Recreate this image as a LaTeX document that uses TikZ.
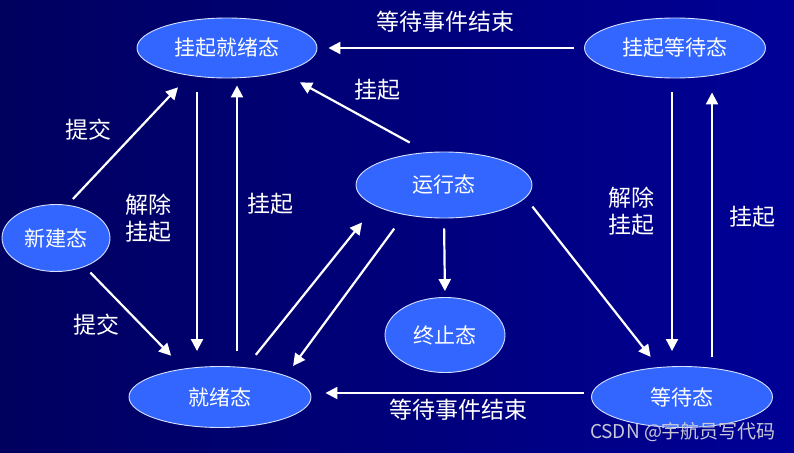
\documentclass[tikz,border=0pt]{standalone}
\usepackage{fontspec}
\setmainfont{Noto Sans CJK SC}
\usepackage{tikz}
\usetikzlibrary{shapes.geometric,arrows.meta,positioning,calc}
\definecolor{navybg}{RGB}{0,0,150}
\definecolor{navydk}{RGB}{0,0,95}
\definecolor{stateblue}{RGB}{51,102,255}
\definecolor{wmgray}{RGB}{200,200,215}

\begin{document}
\begin{tikzpicture}[x=1pt,y=-1pt,
          state/.style={ellipse,draw=white!80!stateblue,line width=0.9pt,
                        fill=stateblue,inner sep=0pt,text=white,
                        font=\fontsize{21}{24}\selectfont},
          arr/.style={-{Triangle[length=12pt,width=12pt]},white,line width=2.2pt},
          lbl/.style={text=white,align=center,font=\fontsize{23}{27}\selectfont}]
        \useasboundingbox (0,0) rectangle (794,452);
        \shade[left color=navydk,right color=navybg] (0,0) rectangle (794,452);
        % states
        \node[state,minimum width=180pt,minimum height=60pt] (sready) at (227,48) {挂起就绪态};
        \node[state,minimum width=181pt,minimum height=60pt] (swait) at (675,48) {挂起等待态};
        \node[state,minimum width=176pt,minimum height=66pt] (run) at (444,185) {运行态};
        \node[state,minimum width=108pt,minimum height=67pt] (new) at (56,238) {新建态};
        \node[state,minimum width=182pt,minimum height=61pt] (ready) at (220,397) {就绪态};
        \node[state,minimum width=120pt,minimum height=75pt] (term) at (445,335) {终止态};
        \node[state,minimum width=181pt,minimum height=61pt] (wait) at (682,397) {等待态};
        % transitions
        \draw[arr,shorten <=10pt,shorten >=11pt] (swait.west) -- (sready.east);
        \draw[arr,shorten <=20pt,shorten >=21pt] (run.117) -- (sready.-24);
        \draw[arr,shorten <=14pt,shorten >=15pt] ([xshift=-30pt]sready.south) -- ([xshift=-23pt]ready.north);
        \draw[arr,shorten <=15pt,shorten >=7pt] ([xshift=17pt]ready.north) -- ([xshift=10pt]sready.south);
        \draw[arr,shorten <=8pt,shorten >=16pt] (new.71) -- (sready.-144);
        \draw[arr,shorten <=8pt,shorten >=18pt] (new.-45) -- (ready.142);
        \draw[arr,shorten <=16pt,shorten >=21pt] (ready.49) -- (run.-163);
        \draw[arr,shorten <=17pt,shorten >=12pt] (run.-143) -- (ready.18);
        \draw[arr,shorten <=10pt,shorten >=6pt] (run.south) -- (term.north);
        \draw[arr,shorten <=11pt,shorten >=13pt] (run.-9) -- (wait.128);
        \draw[arr,shorten <=14pt,shorten >=15pt] ([xshift=-3pt]swait.south) -- ([xshift=-10pt]wait.north);
        \draw[arr,shorten <=9pt,shorten >=14pt] ([xshift=30pt]wait.north) -- ([xshift=37pt]swait.south);
        \draw[arr,shorten <=7pt,shorten >=14pt] ([yshift=4pt]wait.west) -- ([yshift=4pt]ready.east);
        % labels
        \node[lbl] (evtop) at (445,22) {等待事件结束};
        \node[lbl] (hangrun) at (377,90) {挂起};
        \node[lbl] (subup) at (88,130) {提交};
        \node[lbl] (relleft) at (148,218) {解除\\挂起};
        \node[lbl] (hangleft) at (270,204) {挂起};
        \node[lbl] (subdown) at (96,325) {提交};
        \node[lbl] (relright) at (631,211) {解除\\挂起};
        \node[lbl] (hangright) at (752,217) {挂起};
        \node[lbl] (evbot) at (458,410) {等待事件结束};
        \node[text=wmgray,font=\fontsize{19}{21}\selectfont] (wm) at (683,432) {CSDN @宇航员写代码};
      \end{tikzpicture}
\end{document}
